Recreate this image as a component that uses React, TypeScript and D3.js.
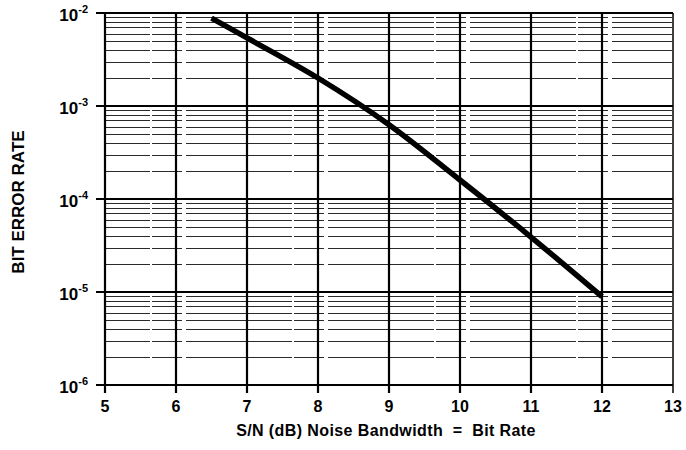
import React, { useRef, useEffect } from "react";
import * as d3 from "d3";

// S/N (dB) values
const snrValues = [6.5, 7, 8, 9, 10, 11, 12];
// bit error rate at each S/N value
const berValues = [8.8e-3, 5.4e-3, 2.0e-3, 6.3e-4, 1.6e-4, 3.9e-5, 8.9e-6];

const xTicks = [5, 6, 7, 8, 9, 10, 11, 12, 13];
const yDecades = [1e-2, 1e-3, 1e-4, 1e-5, 1e-6];
const yExponents = ["-2", "-3", "-4", "-5", "-6"];

function App() {
    const svgRef = useRef<SVGSVGElement>(null);

    useEffect(() => {
        const width = 686;
        const height = 450;
        const margin = { top: 13, right: 13, bottom: 65, left: 105 };
        const svg = d3.select(svgRef.current);
        svg.selectAll("*").remove();
        svg.attr("width", width).attr("height", height);

        const x = d3.scaleLinear().domain([5, 13]).range([margin.left, width - margin.right]);
        const y = d3.scaleLog().domain([1e-6, 1e-2]).range([height - margin.bottom, margin.top]);
        const font = "Liberation Sans, Arial, Helvetica, sans-serif";

        const grid = svg.append("g");

        // minor horizontal lines (2..9 within each decade)
        const minors: number[] = [];
        for (let e = -6; e < -2; e++) {
            for (let m = 2; m <= 9; m++) minors.push(m * Math.pow(10, e));
        }
        grid.selectAll("line.minor")
            .data(minors)
            .enter()
            .append("line")
            .attr("class", "minor")
            .attr("x1", x(5))
            .attr("x2", x(13))
            .attr("y1", (d) => Math.round(y(d)) + 0.5)
            .attr("y2", (d) => Math.round(y(d)) + 0.5)
            .attr("stroke", "#2a2a2a")
            .attr("stroke-width", 1)
            .attr("stroke-dasharray", "45,2,30,4,60,1");

        // decade lines with ticks out to the left
        grid.selectAll("line.major")
            .data(yDecades)
            .enter()
            .append("line")
            .attr("x1", x(5) - 9)
            .attr("x2", x(13))
            .attr("y1", (d) => y(d))
            .attr("y2", (d) => y(d))
            .attr("stroke", "#000")
            .attr("stroke-width", 2);

        // vertical lines at every integer, with ticks below
        grid.selectAll("line.vert")
            .data(xTicks)
            .enter()
            .append("line")
            .attr("x1", (d) => x(d))
            .attr("x2", (d) => x(d))
            .attr("y1", y(1e-2))
            .attr("y2", y(1e-6) + 8)
            .attr("stroke", "#000")
            .attr("stroke-width", (d) => (d === 13 ? 1.5 : 2.2));

        // curve
        const line = d3.line<number>()
            .x((d) => x(d))
            .y((_, i) => y(berValues[i]))
            .curve(d3.curveCatmullRom);
        svg.append("path")
            .attr("d", line(snrValues))
            .attr("fill", "none")
            .attr("stroke", "#000")
            .attr("stroke-width", 5.5)
            .attr("stroke-linecap", "butt");

        // y tick labels 10^n
        const yl = svg.append("g")
            .selectAll("text")
            .data(yDecades)
            .enter()
            .append("text")
            .attr("x", x(5) - 17)
            .attr("y", (d) => y(d) + 8)
            .attr("text-anchor", "end")
            .style("font-family", font)
            .style("font-weight", "bold")
            .style("font-size", "17px");
        yl.append("tspan").text("10");
        yl.append("tspan")
            .attr("dy", -8)
            .style("font-size", "11px")
            .text((_, i) => yExponents[i]);

        // x tick labels
        svg.append("g")
            .selectAll("text")
            .data(xTicks)
            .enter()
            .append("text")
            .attr("x", (d) => x(d))
            .attr("y", y(1e-6) + 27)
            .attr("text-anchor", "middle")
            .style("font-family", font)
            .style("font-weight", "bold")
            .style("font-size", "16px")
            .text((d) => d);

        svg.append("text")
            .attr("x", (x(5) + x(13)) / 2 - 3)
            .attr("y", 436)
            .attr("text-anchor", "middle")
            .style("font-family", font)
            .style("font-weight", "bold")
            .style("font-size", "16px")
            .style("letter-spacing", "0.4px")
            .attr("xml:space", "preserve")
            .text("S/N (dB) Noise Bandwidth  =  Bit Rate");

        svg.append("text")
            .attr("transform", `translate(24,${(y(1e-2) + y(1e-6)) / 2 + 3}) rotate(-90)`)
            .attr("text-anchor", "middle")
            .style("font-family", font)
            .style("font-weight", "bold")
            .style("font-size", "17px")
            .text("BIT ERROR RATE");
    }, []);

    return (
        <svg ref={svgRef} style={{ position: "absolute", left: 0, top: 0, background: "#fff" }}></svg>
    );
}

export default App;
